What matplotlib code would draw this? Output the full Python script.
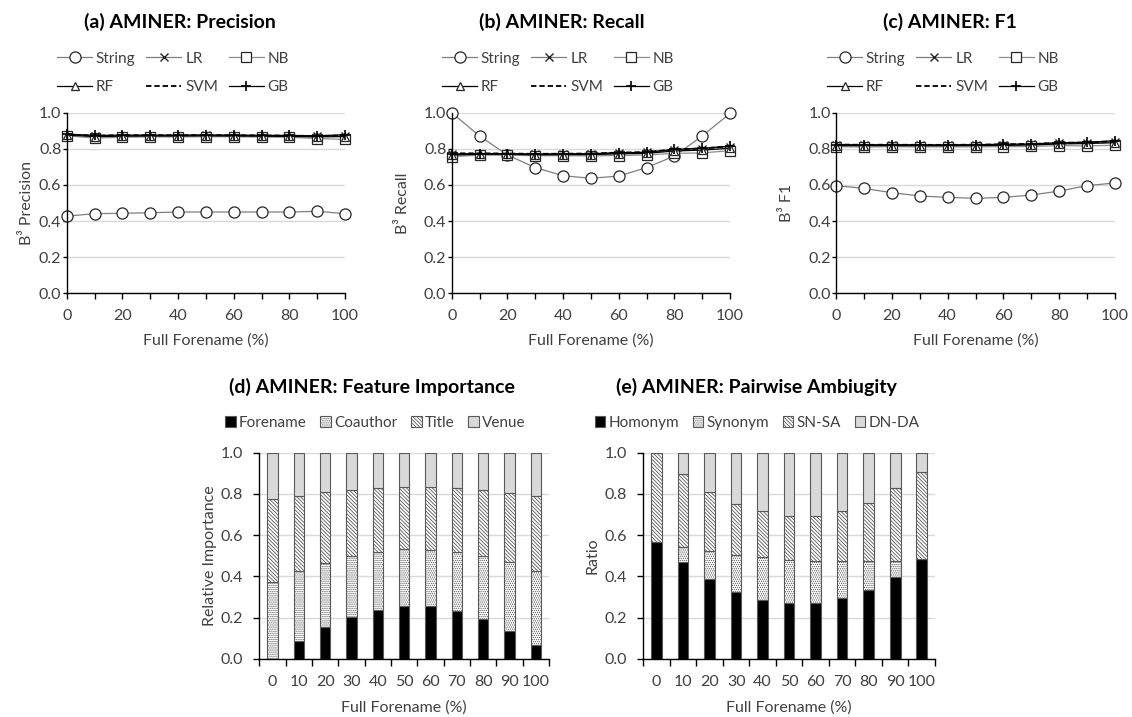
import matplotlib
matplotlib.use("Agg")
import matplotlib.pyplot as plt
from matplotlib.ticker import MultipleLocator, FixedLocator

plt.rcParams['font.family'] = ['Lato', 'DejaVu Sans']
plt.rcParams['hatch.linewidth'] = 0.6

# ---------------- data ----------------
x_pct = [0, 10, 20, 30, 40, 50, 60, 70, 80, 90, 100]
methods = ["String", "LR", "NB", "RF", "SVM", "GB"]

prec_string = [0.427, 0.441, 0.443, 0.446, 0.450, 0.450, 0.450, 0.450, 0.450, 0.454, 0.441]
prec_lr = [0.878, 0.872, 0.873, 0.873, 0.873, 0.874, 0.873, 0.872, 0.871, 0.869, 0.872]
prec_nb = [0.872, 0.860, 0.864, 0.866, 0.866, 0.867, 0.867, 0.865, 0.864, 0.857, 0.852]
prec_rf = [0.876, 0.868, 0.870, 0.871, 0.871, 0.872, 0.871, 0.870, 0.869, 0.866, 0.868]
prec_svm = [0.879, 0.873, 0.875, 0.875, 0.875, 0.876, 0.875, 0.874, 0.873, 0.871, 0.874]
prec_gb = [0.882, 0.874, 0.876, 0.876, 0.876, 0.877, 0.876, 0.875, 0.874, 0.872, 0.878]

rec_string = [1.000, 0.871, 0.766, 0.696, 0.651, 0.637, 0.649, 0.696, 0.760, 0.871, 0.996]
rec_lr = [0.772, 0.773, 0.772, 0.770, 0.771, 0.772, 0.777, 0.780, 0.795, 0.800, 0.812]
rec_nb = [0.757, 0.765, 0.765, 0.762, 0.762, 0.761, 0.763, 0.766, 0.775, 0.777, 0.790]
rec_rf = [0.765, 0.770, 0.770, 0.767, 0.768, 0.768, 0.772, 0.775, 0.788, 0.793, 0.803]
rec_svm = [0.775, 0.775, 0.774, 0.772, 0.773, 0.774, 0.779, 0.782, 0.797, 0.802, 0.814]
rec_gb = [0.770, 0.774, 0.773, 0.771, 0.772, 0.773, 0.778, 0.781, 0.797, 0.803, 0.815]

f1_string = [0.596, 0.581, 0.557, 0.539, 0.531, 0.526, 0.531, 0.544, 0.566, 0.596, 0.611]
f1_lr = [0.822, 0.820, 0.821, 0.820, 0.820, 0.821, 0.823, 0.825, 0.831, 0.833, 0.840]
f1_nb = [0.812, 0.810, 0.812, 0.811, 0.811, 0.811, 0.812, 0.813, 0.818, 0.816, 0.820]
f1_rf = [0.818, 0.817, 0.818, 0.817, 0.817, 0.818, 0.819, 0.821, 0.827, 0.829, 0.834]
f1_svm = [0.824, 0.822, 0.823, 0.822, 0.822, 0.823, 0.825, 0.827, 0.833, 0.835, 0.842]
f1_gb = [0.823, 0.822, 0.823, 0.822, 0.822, 0.823, 0.825, 0.827, 0.834, 0.836, 0.845]

bar_cats = ["0", "10", "20", "30", "40", "50", "60", "70", "80", "90", "100"]
feat_names = ["Forename", "Coauthor", "Title", "Venue"]
feat_forename = [0.000, 0.086, 0.152, 0.204, 0.236, 0.254, 0.254, 0.233, 0.193, 0.133, 0.065]
feat_coauthor = [0.371, 0.338, 0.312, 0.293, 0.282, 0.278, 0.275, 0.283, 0.307, 0.335, 0.362]
feat_title = [0.402, 0.367, 0.347, 0.323, 0.309, 0.300, 0.303, 0.311, 0.320, 0.338, 0.364]
feat_venue = [0.227, 0.209, 0.189, 0.180, 0.173, 0.168, 0.168, 0.173, 0.180, 0.194, 0.209]

amb_names = ["Homonym", "Synonym", "SN-SA", "DN-DA"]
amb_homonym = [0.568, 0.468, 0.388, 0.324, 0.285, 0.269, 0.272, 0.294, 0.335, 0.396, 0.486]
amb_synonym = [0.000, 0.076, 0.136, 0.181, 0.207, 0.208, 0.200, 0.180, 0.137, 0.076, 0.000]
amb_snsa = [0.432, 0.351, 0.287, 0.246, 0.223, 0.214, 0.219, 0.243, 0.285, 0.355, 0.422]
amb_dnda = [0.000, 0.105, 0.189, 0.249, 0.285, 0.309, 0.309, 0.283, 0.243, 0.173, 0.092]

# ---------------- figure ----------------
W, H = 1132, 717
fig = plt.figure(figsize=(W / 100, H / 100), dpi=100)

def fbox(l, t, r, b):
    return [l / W, 1 - b / H, (r - l) / W, (b - t) / H]

GRID = '#d9d9d9'
TXT = '#404040'
TICK_FS = 11.5
LAB_FS = 11.5

styles = {
    "String": dict(color='#7f7f7f', lw=0.9, marker='o', ms=8, mfc='white', mec='#262626', mew=0.9, ls='-'),
    "LR": dict(color='#7f7f7f', lw=0.9, marker='x', ms=6, mfc='none', mec='#262626', mew=1.0, ls='-'),
    "NB": dict(color='#8c8c8c', lw=0.9, marker='s', ms=7, mfc='white', mec='#262626', mew=0.9, ls='-'),
    "RF": dict(color='black', lw=0.9, marker='^', ms=5.5, mfc='white', mec='#262626', mew=0.9, ls='-'),
    "SVM": dict(color='black', lw=1.3, marker=None, ls=(0, (3, 1.6))),
    "GB": dict(color='black', lw=0.9, marker='+', ms=7, mec='black', mew=1.2, ls='-'),
}

# (axes box px, title, ylabel, title centre x, legend centre x, ylabel centre x)
line_panels = [
    ((66.7, 112.7, 345, 293.3), "(a) AMINER: Precision", "B³ Precision", 180, 173, 27,
     [prec_string, prec_lr, prec_nb, prec_rf, prec_svm, prec_gb]),
    ((451.7, 112.7, 730, 293.3), "(b) AMINER: Recall", "B³ Recall", 562, 558, 403,
     [rec_string, rec_lr, rec_nb, rec_rf, rec_svm, rec_gb]),
    ((836, 112.7, 1115, 293.3), "(c) AMINER: F1", "B³ F1", 950, 943, 787,
     [f1_string, f1_lr, f1_nb, f1_rf, f1_svm, f1_gb]),
]

def style_axes(ax, ypad, ylen):
    ax.set_ylim(0, 1.0)
    ax.yaxis.set_major_locator(MultipleLocator(0.2))
    ax.yaxis.set_major_formatter(matplotlib.ticker.FormatStrFormatter('%.1f'))
    ax.grid(axis='y', color=GRID, lw=1.0)
    ax.set_axisbelow(True)
    for s in ['top', 'right']:
        ax.spines[s].set_visible(False)
    for s in ['left', 'bottom']:
        ax.spines[s].set_color('black')
        ax.spines[s].set_linewidth(1.0)
    ax.tick_params(axis='y', length=ylen, width=1, color='black', labelsize=TICK_FS, labelcolor=TXT, pad=ypad)
    ax.tick_params(axis='x', which='both', length=4, width=1, color='black', labelsize=TICK_FS, labelcolor=TXT, pad=7)

def place_ylabel(ax, box, text, cx):
    ax.set_ylabel(text, fontsize=LAB_FS, color=TXT, va='center', ha='center')
    l, t, r, b = box
    ax.yaxis.set_label_coords((cx - l) / (r - l), 0.5)

for box, title, ylab, tx, lx, yx, series in line_panels:
    ax = fig.add_axes(fbox(*box))
    style_axes(ax, 0.8, 3)
    ax.set_xlim(0, 100)
    ax.xaxis.set_major_locator(MultipleLocator(20))
    ax.xaxis.set_minor_locator(MultipleLocator(10))
    handles = {}
    for name, ys in zip(methods, series):
        ln, = ax.plot(x_pct, ys, label=name, clip_on=False, **styles[name])
        handles[name] = ln
    ax.set_xlabel("Full Forename (%)", fontsize=LAB_FS, color=TXT, labelpad=8)
    place_ylabel(ax, box, ylab, yx)
    fig.text(tx / W, 1 - 21.5 / H, title, ha='center', va='center', fontsize=14, fontweight='bold', color='black')
    order = ["String", "RF", "LR", "SVM", "NB", "GB"]
    leg = ax.legend([handles[n] for n in order], order, ncol=3, loc='center',
                    bbox_to_anchor=(lx / W, 1 - 73 / H), bbox_transform=fig.transFigure,
                    frameon=False, fontsize=11, handlelength=2.3, handletextpad=0.25,
                    columnspacing=0.7, labelspacing=0.95, borderpad=0)
    for t in leg.get_texts():
        t.set_color(TXT)

bar_panels = [
    ((259.3, 452.7, 549, 658.7), "(d) AMINER: Feature Importance", "Relative Importance", 372, 375, 210,
     feat_names, [feat_forename, feat_coauthor, feat_title, feat_venue]),
    ((643.3, 452.7, 935, 658.7), "(e) AMINER: Pairwise Ambiugity", "Ratio", 756.5, 757, 593,
     amb_names, [amb_homonym, amb_synonym, amb_snsa, amb_dnda]),
]

fills = [dict(color='black', hatch=None),
         dict(color='white', hatch='........'),
         dict(color='white', hatch='\\\\\\\\\\\\\\\\\\'),
         dict(color='#d9d9d9', hatch=None)]
EDGE = '#595959'

for box, title, ylab, tx, lx, yx, names, parts in bar_panels:
    ax = fig.add_axes(fbox(*box))
    style_axes(ax, 7.5, 4)
    pos = list(range(len(bar_cats)))
    ax.set_xlim(-0.5, len(bar_cats) - 0.5)
    bottom = [0.0] * len(bar_cats)
    handles = []
    for name, vals, f in zip(names, parts, fills):
        bars = ax.bar(pos, vals, width=0.4, bottom=bottom, color=f['color'], hatch=f['hatch'],
                      edgecolor=EDGE, linewidth=0.8, label=name, zorder=2)
        handles.append(bars)
        bottom = [b + v for b, v in zip(bottom, vals)]
    ax.set_xticks(pos)
    ax.set_xticklabels(bar_cats)
    ax.tick_params(axis='x', which='major', length=0, pad=12)
    ax.xaxis.set_minor_locator(FixedLocator([p - 0.5 for p in pos] + [pos[-1] + 0.5]))
    ax.tick_params(axis='x', which='minor', length=5, width=1, color='black')
    ax.set_xlabel("Full Forename (%)", fontsize=LAB_FS, color=TXT, labelpad=8)
    place_ylabel(ax, box, ylab, yx)
    fig.text(tx / W, 1 - 387 / H, title, ha='center', va='center', fontsize=14, fontweight='bold', color='black')
    leg = ax.legend(handles, names, ncol=4, loc='center',
                    bbox_to_anchor=(lx / W, 1 - 423 / H), bbox_transform=fig.transFigure,
                    frameon=False, fontsize=11, handlelength=0.7, handleheight=0.7,
                    handletextpad=0.2, columnspacing=0.9, borderpad=0)
    for t in leg.get_texts():
        t.set_color(TXT)

fig.savefig("out.png", dpi=100)
